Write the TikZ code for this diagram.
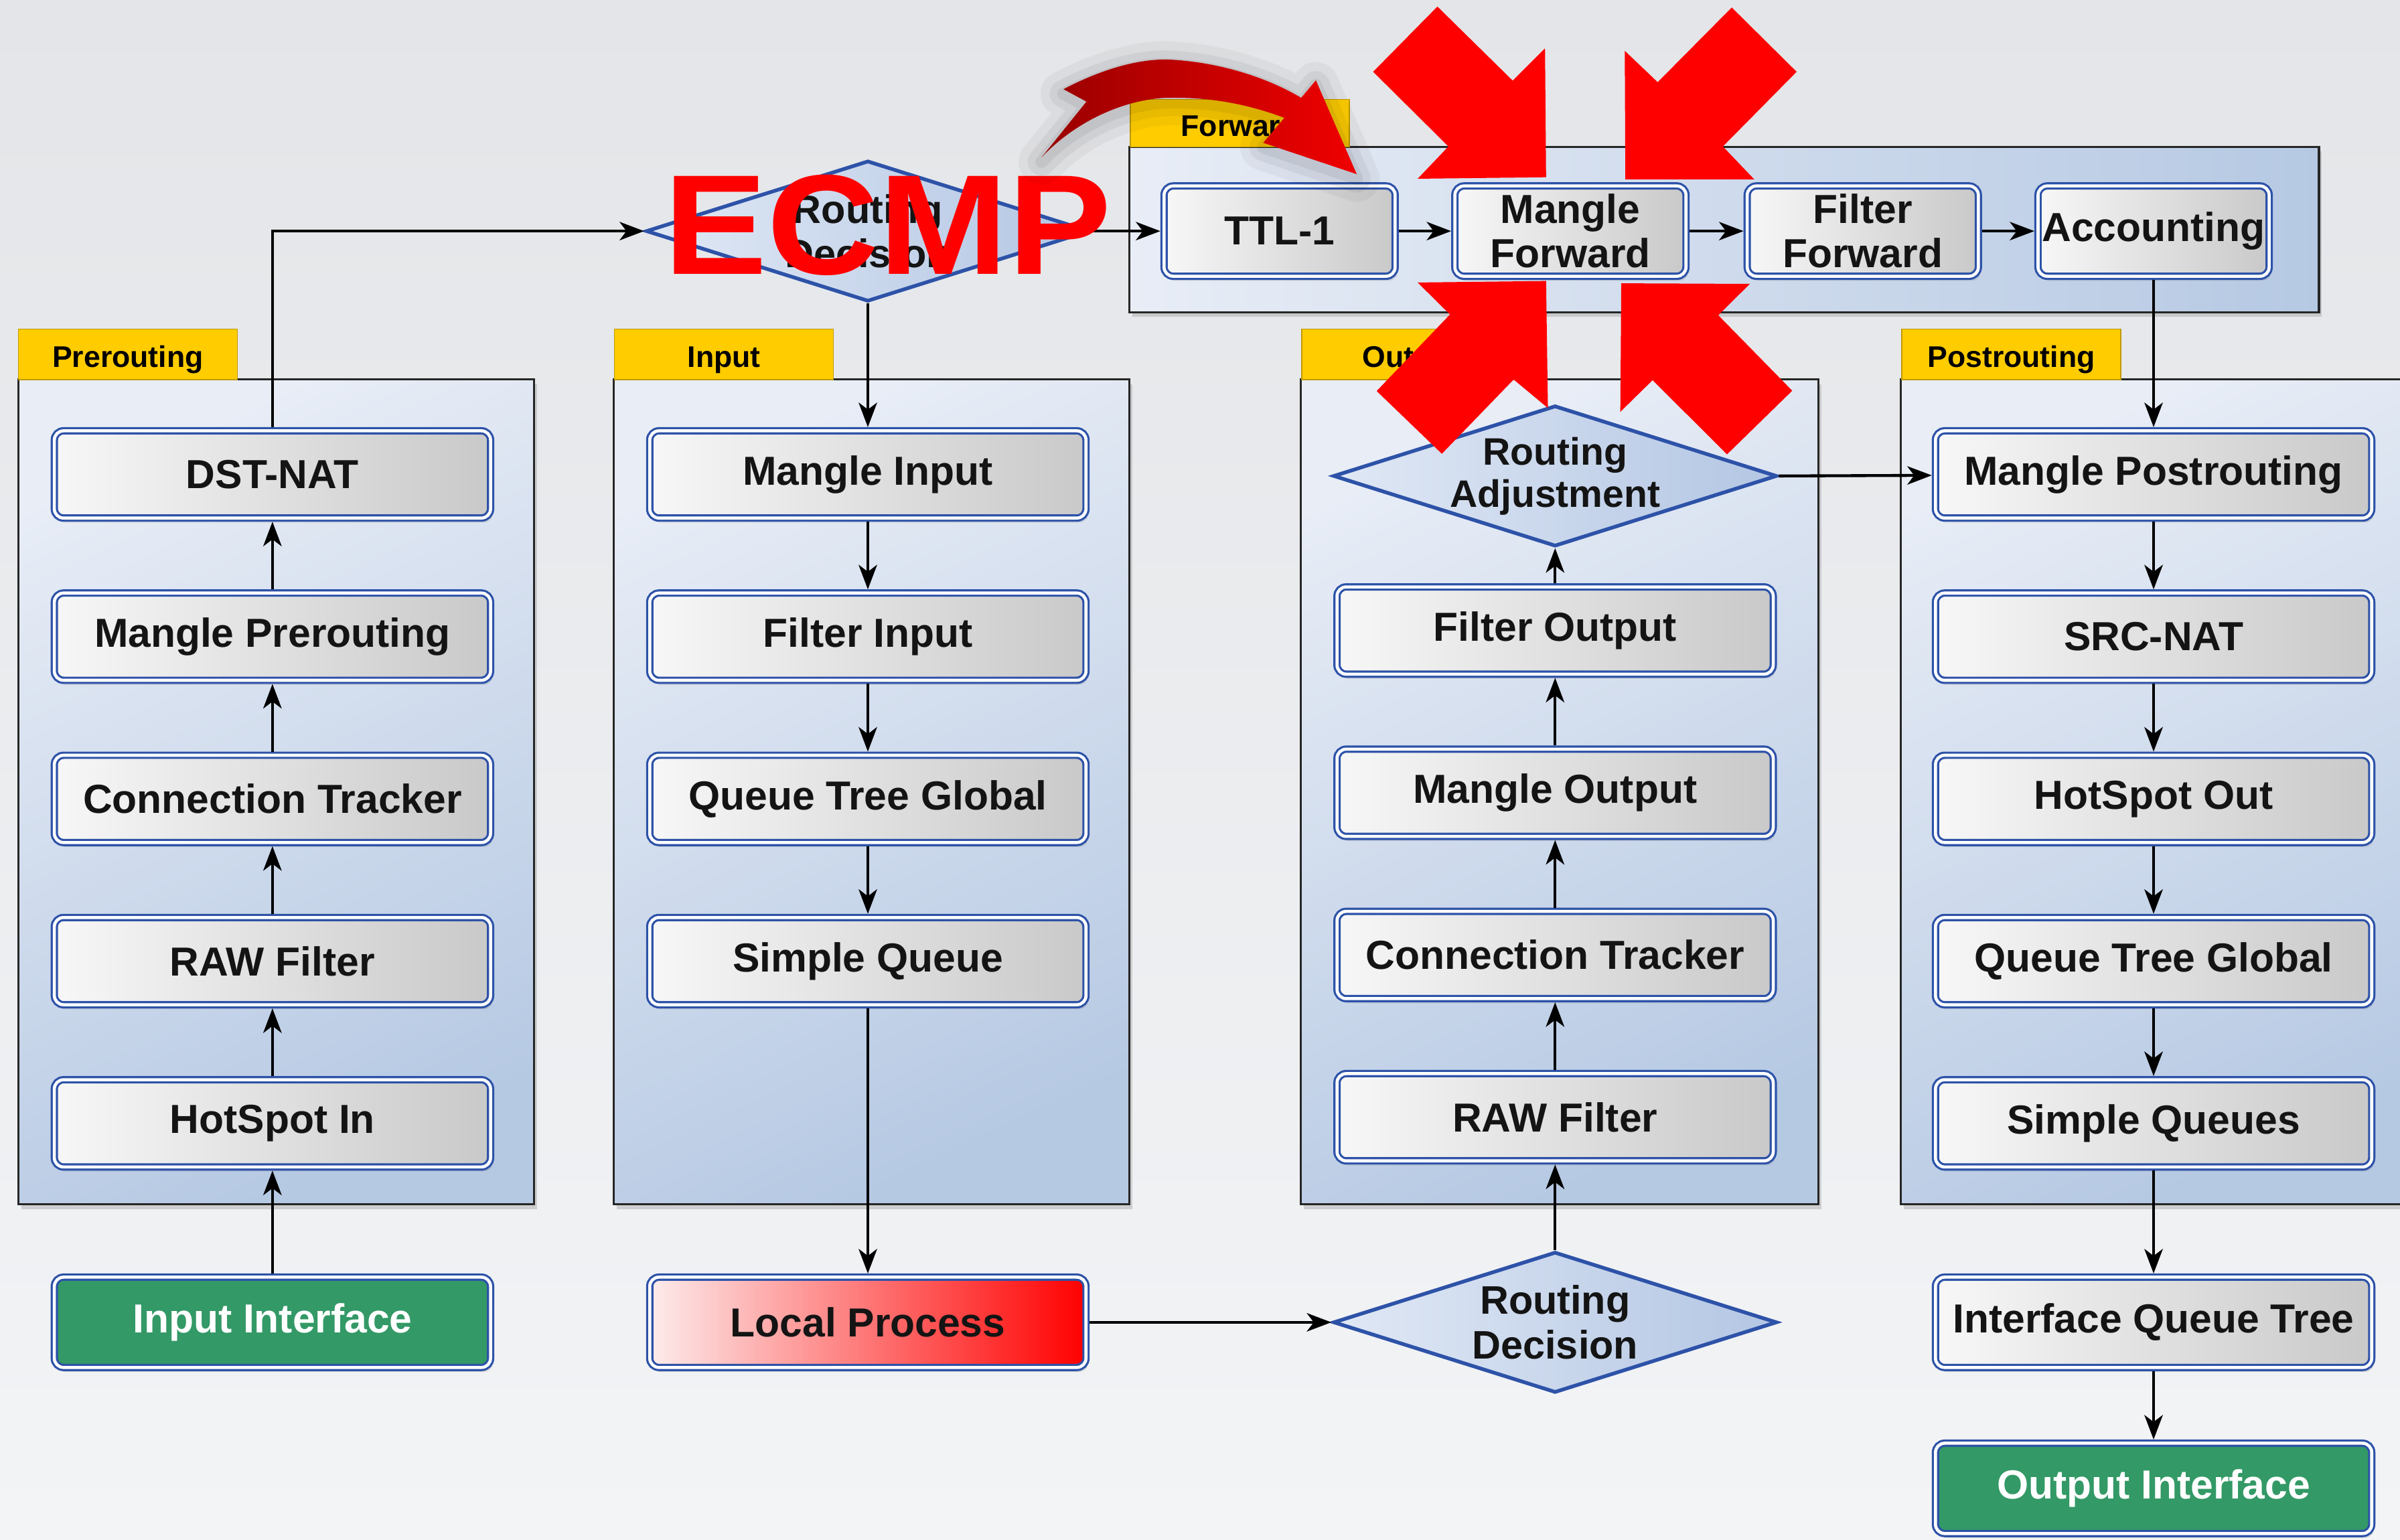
\documentclass[tikz,border=0pt]{standalone}
\usepackage{fontspec}
\setmainfont{Liberation Sans}
\usetikzlibrary{arrows.meta,shapes.geometric,shadows}
\definecolor{bgtop}{HTML}{E3E5E8}
\definecolor{bgbot}{HTML}{F3F4F6}
\definecolor{grpA}{HTML}{E8EDF6}
\definecolor{grpB}{HTML}{B6C9E3}
\definecolor{tabY}{HTML}{FFCC00}
\definecolor{bdr}{HTML}{2D52A8}
\definecolor{boxL}{HTML}{F7F7F7}
\definecolor{boxR}{HTML}{C9C9C9}
\definecolor{grn}{HTML}{339966}
\definecolor{diaL}{HTML}{E0E8F5}
\definecolor{diaR}{HTML}{B3C6E3}
\definecolor{pinkL}{HTML}{FDECEC}
\definecolor{redD}{HTML}{980000}
\definecolor{redL}{HTML}{F00000}
\newcommand\redcurve[1]{\path[#1] (694.8,58.3) .. controls (720,45) and (745,38) .. (765,39)
  .. controls (800,41) and (830,52) .. (850.1,63.9) -- (859.7,52.5) -- (886.4,113.8)
  -- (825.3,93.3) -- (839.1,77) .. controls (815,68) and (790,63) .. (760,64)
  .. controls (730,66) and (700,82) .. (680.5,102.8) -- (709.8,66.4) -- cycle;}
\begin{document}
\begin{tikzpicture}[x=1pt,y=-1pt,
  grp/.style={draw=black!85,line width=1.4pt,top color=grpA,bottom color=grpB,shading angle=25,
    drop shadow={shadow xshift=2pt,shadow yshift=-3pt,opacity=0.3}},
  tablab/.style={fill=tabY,draw=tabY!75!black,line width=0.6pt,inner sep=0pt,
    minimum width=143pt,minimum height=33pt,text height=21pt,text depth=4pt,
    font=\bfseries\fontsize{19.5}{20}\selectfont,text=black},
  box/.style={draw=bdr,double=white,double distance=2pt,line width=1.4pt,rounded corners=6pt,
    left color=boxL,right color=boxR,minimum width=285pt,minimum height=57pt,inner sep=0pt,
    outer sep=2.4pt,align=center,font=\bfseries\fontsize{26.5}{29}\selectfont,text=black!92,
    drop shadow={shadow xshift=1.5pt,shadow yshift=-3pt,opacity=0.22}},
  fwd/.style={minimum width=151pt,minimum height=59pt},
  greenbox/.style={left color=grn,right color=grn,text=white,minimum height=59pt},
  redbox/.style={left color=pinkL,right color=red,minimum height=59pt},
  dia/.style={diamond,draw=bdr,line width=2.4pt,left color=diaL,right color=diaR,
    minimum width=290pt,minimum height=92pt,inner sep=0pt,outer sep=1.2pt},
  dialab/.style={align=center,inner sep=0pt,font=\bfseries\fontsize{25}{27.5}\selectfont,text=black!92},
  arr/.style={draw=black,line width=1.9pt,-{Stealth[length=16pt,width=12pt,inset=4.5pt]}}]
\useasboundingbox (0,0) rectangle (1568,1006);
\fill[top color=bgtop,bottom color=bgbot] (0,0) rectangle (1568,1006);

% groups
\path[grp] (12,248) rectangle (349,787);
\path[grp] (401,248) rectangle (738,787);
\path[grp] (850,248) rectangle (1188,787);
\path[grp] (1242,248) rectangle (1585,787);
\path[grp,left color=grpA,right color=grpB] (738,96) rectangle (1515,204);

\node[tablab] (tpre) at (83.5,231.5) {Prerouting};
\node[tablab] (tin) at (473,231.5) {Input};
\node[tablab] (tout) at (922,231.5) {Output};
\node[tablab] (tpost) at (1314,231.5) {Postrouting};
\node[tablab,minimum height=31pt] (tfwd) at (810,80.5) {Forward};

% Prerouting
\node[box] (dst) at (178,310) {DST-NAT};
\node[box] (mpr) at (178,416) {Mangle Prerouting};
\node[box] (ctp) at (178,522) {Connection Tracker};
\node[box] (rawp) at (178,628) {RAW Filter};
\node[box] (hsi) at (178,734) {HotSpot In};
\node[box,greenbox] (ii) at (178,864) {Input Interface};
% Input
\node[box] (mi) at (567,310) {Mangle Input};
\node[box] (fi) at (567,416) {Filter Input};
\node[box] (qtgi) at (567,522) {Queue Tree Global};
\node[box] (sq) at (567,628) {Simple Queue};
\node[box,redbox] (lp) at (567,864) {Local Process};
% Output
\node[dia] (ra) at (1016,311) {};
\node[dialab] (ralab) at (ra) {Routing\\Adjustment};
\node[box] (fo) at (1016,412) {Filter Output};
\node[box] (mo) at (1016,518) {Mangle Output};
\node[box] (cto) at (1016,624) {Connection Tracker};
\node[box] (rawo) at (1016,730) {RAW Filter};
\node[dia] (rd2) at (1016,864) {};
\node[dialab,font=\bfseries\fontsize{26}{29}\selectfont] (rd2lab) at (rd2) {Routing\\Decision};
% Postrouting
\node[box] (mpo) at (1407,310) {Mangle Postrouting};
\node[box] (src) at (1407,416) {SRC-NAT};
\node[box] (hso) at (1407,522) {HotSpot Out};
\node[box] (qtgp) at (1407,628) {Queue Tree Global};
\node[box] (sqs) at (1407,734) {Simple Queues};
\node[box,minimum height=59pt] (iqt) at (1407,864) {Interface Queue Tree};
\node[box,greenbox] (oi) at (1407,972.5) {Output Interface};
% Forward
\node[dia] (rd1) at (567,151) {};
\node[dialab,font=\bfseries\fontsize{26}{29}\selectfont] (rd1lab) at (rd1) {Routing\\Decision};
\node[box,fwd] (ttl) at (836,151) {TTL-1};
\node[box,fwd] (mf) at (1026,151) {Mangle\\Forward};
\node[box,fwd] (ff) at (1217,151) {Filter\\Forward};
\node[box,fwd] (acc) at (1407,151) {Accounting};

% connectors
\draw[arr] (ii) -- (hsi);
\draw[arr] (hsi) -- (rawp);
\draw[arr] (rawp) -- (ctp);
\draw[arr] (ctp) -- (mpr);
\draw[arr] (mpr) -- (dst);
\draw[arr] (dst.north) |- (rd1.west);
\draw[arr] (rd1.east) -- (ttl.west);
\draw[arr] (ttl) -- (mf);
\draw[arr] (mf) -- (ff);
\draw[arr] (ff) -- (acc);
\draw[arr] (rd1.south) -- (mi.north);
\draw[arr] (mi) -- (fi);
\draw[arr] (fi) -- (qtgi);
\draw[arr] (qtgi) -- (sq);
\draw[arr] (sq) -- (lp);
\draw[arr] (lp) -- (rd2.west);
\draw[arr] (rd2.north) -- (rawo);
\draw[arr] (rawo) -- (cto);
\draw[arr] (cto) -- (mo);
\draw[arr] (mo) -- (fo);
\draw[arr] (fo) -- (ra.south);
\draw[arr] (ra.east) -- (mpo);
\draw[arr] (acc) -- (mpo);
\draw[arr] (mpo) -- (src);
\draw[arr] (src) -- (hso);
\draw[arr] (hso) -- (qtgp);
\draw[arr] (qtgp) -- (sqs);
\draw[arr] (sqs) -- (iqt);
\draw[arr] (iqt) -- (oi);

% overlays
\node[font=\bfseries\fontsize{93}{93}\selectfont,text=red,inner sep=0pt] (ecmp) at (580,147) {\scalebox{1.09}[1]{ECMP}};

\begin{scope}[yshift=-3pt]
\redcurve{draw=black,opacity=0.04,line width=30pt,line join=round}
\redcurve{draw=black,opacity=0.05,line width=18pt,line join=round}
\redcurve{draw=black,opacity=0.06,line width=8pt,line join=round}
\end{scope}
\redcurve{left color=redD,right color=redL}

\fill[red] (939.1,4.3) -- (988.3,52.7) -- (1009.4,31.6) -- (1010.1,115.8) -- (926.2,116.8) -- (946.3,95.7) -- (897.1,46.9) -- cycle;
\fill[red] (1131.4,4.9) -- (1173.8,46.9) -- (1125.6,95.7) -- (1146.1,117.2) -- (1061.9,117.2) -- (1061.5,33.2) -- (1083.0,53.7) -- cycle;
\fill[red] (926.2,184.6) -- (1010.1,183.6) -- (1011.3,266.6) -- (988.9,248.0) -- (942.0,296.5) -- (899.4,255.5) -- (947.3,205.5) -- cycle;
\fill[red] (1059.2,185.1) -- (1143.2,185.5) -- (1122.6,206.0) -- (1170.9,255.3) -- (1128.3,296.9) -- (1079.7,248.4) -- (1058.6,269.1) -- cycle;
\end{tikzpicture}
\end{document}
